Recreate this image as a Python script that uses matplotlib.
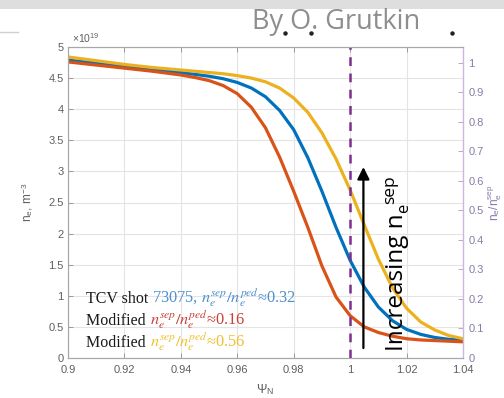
import numpy as np
import matplotlib
matplotlib.use("Agg")
import matplotlib.pyplot as plt
from matplotlib.patches import Rectangle
from matplotlib.lines import Line2D

plt.rcParams['mathtext.fontset'] = 'stix'

# ---- edge density profiles (units of 1e19 m^-3) vs normalised flux ----
psi_n = [0.900, 0.910, 0.920, 0.930, 0.940, 0.945, 0.950, 0.955, 0.960, 0.965,
         0.970, 0.975, 0.980, 0.985, 0.990, 0.995, 1.000, 1.005, 1.010, 1.015,
         1.020, 1.025, 1.030, 1.035, 1.040]

ne_tcv = [4.79, 4.74, 4.69, 4.64, 4.59, 4.56, 4.53, 4.49, 4.43, 4.34,
          4.20, 3.98, 3.67, 3.22, 2.68, 2.10, 1.57, 1.14, 0.82, 0.60,
          0.46, 0.38, 0.33, 0.30, 0.29]     # TCV shot 73075, sep/ped ~0.32
ne_low = [4.76, 4.71, 4.66, 4.61, 4.55, 4.51, 4.46, 4.38, 4.25, 4.03,
          3.70, 3.23, 2.68, 2.10, 1.48, 0.98, 0.68, 0.50, 0.41, 0.35,
          0.31, 0.29, 0.28, 0.27, 0.26]     # modified, sep/ped ~0.16
ne_high = [4.84, 4.78, 4.72, 4.67, 4.63, 4.61, 4.59, 4.57, 4.54, 4.50,
           4.44, 4.34, 4.18, 3.95, 3.62, 3.20, 2.70, 2.14, 1.59, 1.13,
           0.80, 0.58, 0.45, 0.36, 0.31]    # modified, sep/ped ~0.56

ne_ped = 4.75        # right axis is n_e normalised by this
psi_sep = 1.0

x_ticks = [0.9, 0.92, 0.94, 0.96, 0.98, 1.0, 1.02, 1.04]
x_ticklabels = ['0.9', '0.92', '0.94', '0.96', '0.98', '1', '1.02', '1.04']
y_ticks = [0, 0.5, 1, 1.5, 2, 2.5, 3, 3.5, 4, 4.5, 5]
y_ticklabels = ['0', '0.5', '1', '1.5', '2', '2.5', '3', '3.5', '4', '4.5', '5']
y2_ticks = [0, 0.1, 0.2, 0.3, 0.4, 0.5, 0.6, 0.7, 0.8, 0.9, 1.0]
y2_ticklabels = ['0', '0.1', '0.2', '0.3', '0.4', '0.5', '0.6', '0.7', '0.8', '0.9', '1']

# matlab default colours
c_blue = '#0072BD'
c_red = '#D95319'
c_yel = '#EDB120'
c_purp = '#7E2F8E'

fig = plt.figure(figsize=(5.04, 3.98), dpi=100)

# slide header strip + credit
fig.patches.append(Rectangle((0, 1 - 8.5 / 398), 1, 8.5 / 398, transform=fig.transFigure,
                             facecolor='#dedede', edgecolor='none', zorder=0))
fig.lines.append(Line2D([0, 18 / 504], [1 - 32 / 398] * 2, transform=fig.transFigure,
                        color='#cfcfcf', lw=1))
fig.text(252 / 504, 1 - 22 / 398, 'By O. Grutkin', family='Open Sans', fontsize=19.5,
         color='#8e8e8e', va='center', ha='left')
fig.lines.append(Line2D([285 / 504, 311 / 504, 452 / 504], [1 - 33 / 398] * 3,
                        transform=fig.transFigure, ls='none', marker='o',
                        markersize=2.2, color='#222222'))

ax = fig.add_axes([68 / 504, 40 / 398, 395 / 504, 311 / 398])
ax2 = ax.twinx()

ax.plot(psi_n, ne_tcv, color=c_blue, lw=2.3, zorder=3)
ax.plot(psi_n, ne_low, color=c_red, lw=2.3, zorder=3)
ax.plot(psi_n, ne_high, color=c_yel, lw=2.3, zorder=3)
ax.axvline(psi_sep, color=c_purp, lw=1.8, ls=(0, (3.5, 3)), zorder=4)

ax.set_xlim(0.9, 1.04)
ax.set_ylim(0, 5)
ax2.set_ylim(0, 5 / ne_ped)

ax.set_xticks(x_ticks)
ax.set_xticklabels(x_ticklabels)
ax.set_yticks(y_ticks)
ax.set_yticklabels(y_ticklabels)
ax2.set_yticks(y2_ticks)
ax2.set_yticklabels(y2_ticklabels)

ax.grid(True, color='#e4e4e4', lw=0.8)
ax.set_axisbelow(True)

grey = '#5f5f5f'
ax.tick_params(direction='in', length=3.5, width=0.7, colors='#9a9a9a',
               labelcolor=grey, labelsize=8, top=True, right=False, pad=3)
ax.tick_params(axis='x', pad=5)
for s in ['left', 'top', 'bottom']:
    ax.spines[s].set_color('#a8a8a8')
    ax2.spines[s].set_color('#a8a8a8')
ax.spines['right'].set_visible(False)
ax2.spines['right'].set_color('#cbb8dc')
ax2.spines['right'].set_linewidth(1.0)
ax2.tick_params(direction='in', length=3.5, width=0.7, colors='#b8a6cc',
                labelcolor='#8a7aa6', labelsize=8, pad=4)
for t in ax.get_xticklabels() + ax.get_yticklabels() + ax2.get_yticklabels():
    t.set_family('Liberation Sans')

ax.set_xlabel('Ψ$_\\mathregular{N}$', family='Liberation Sans', fontsize=9, color=grey,
              labelpad=5)
ax.set_ylabel('n$_\\mathregular{e}$, m$^\\mathregular{-3}$', family='Liberation Sans',
              fontsize=8.5, color=grey, labelpad=10)
ax2.set_ylabel('n$_\\mathregular{e}$/n$_\\mathregular{e}^\\mathregular{sep}$',
               family='Liberation Sans', fontsize=8.5, color='#8a7aa6', labelpad=2)
ax.text(0.01, 1.008, '×10$^\\mathregular{19}$', transform=ax.transAxes,
        family='Liberation Sans', fontsize=7.5, color=grey, ha='left', va='bottom')

# arrow + rotated label; subscript and superscript set one after the other
ax.annotate('', xy=(1.0047, 3.07), xytext=(1.0047, 0.16),
            arrowprops=dict(arrowstyle='-|>', lw=1.6, color='k', mutation_scale=18,
                            shrinkA=0, shrinkB=0), zorder=5)
lab = ax.text(1.0165, 0.12, 'Increasing n', rotation=90, family='Open Sans',
              fontsize=17.5, color='k', ha='center', va='bottom', zorder=5)
sub = ax.annotate('e', xy=(0.80, 1), xycoords=lab, rotation=90, family='Open Sans',
                  fontsize=12, color='k', ha='center', va='bottom', zorder=5)
ax.annotate('sep', xy=(0.22, 1), xycoords=(lab, sub), rotation=90, family='Open Sans',
            fontsize=12.5, color='k', ha='center', va='bottom', zorder=5)

# coloured annotations, each line built from two pieces on a shared baseline
serif = ['Liberation Serif', 'DejaVu Serif']
rows = [('TCV shot ', '73075, $n_e^{sep}/n_e^{ped}$≈0.32', '#4f8fcc', 0.89),
        ('Modified ', '$n_e^{sep}/n_e^{ped}$≈0.16', '#c8403a', 0.535),
        ('Modified ', '$n_e^{sep}/n_e^{ped}$≈0.56', '#efc030', 0.18)]
for head, tail, col, yy in rows:
    t1 = ax.text(0.9064, yy, head, family=serif, fontsize=11.5, color='#1a1a1a',
                 ha='left', va='baseline', zorder=5)
    ax.annotate(tail, xy=(1, yy), xycoords=(t1, 'data'), family=serif, fontsize=11.8,
                color=col, ha='left', va='baseline', zorder=5)

fig.savefig('out.png', dpi=100)
